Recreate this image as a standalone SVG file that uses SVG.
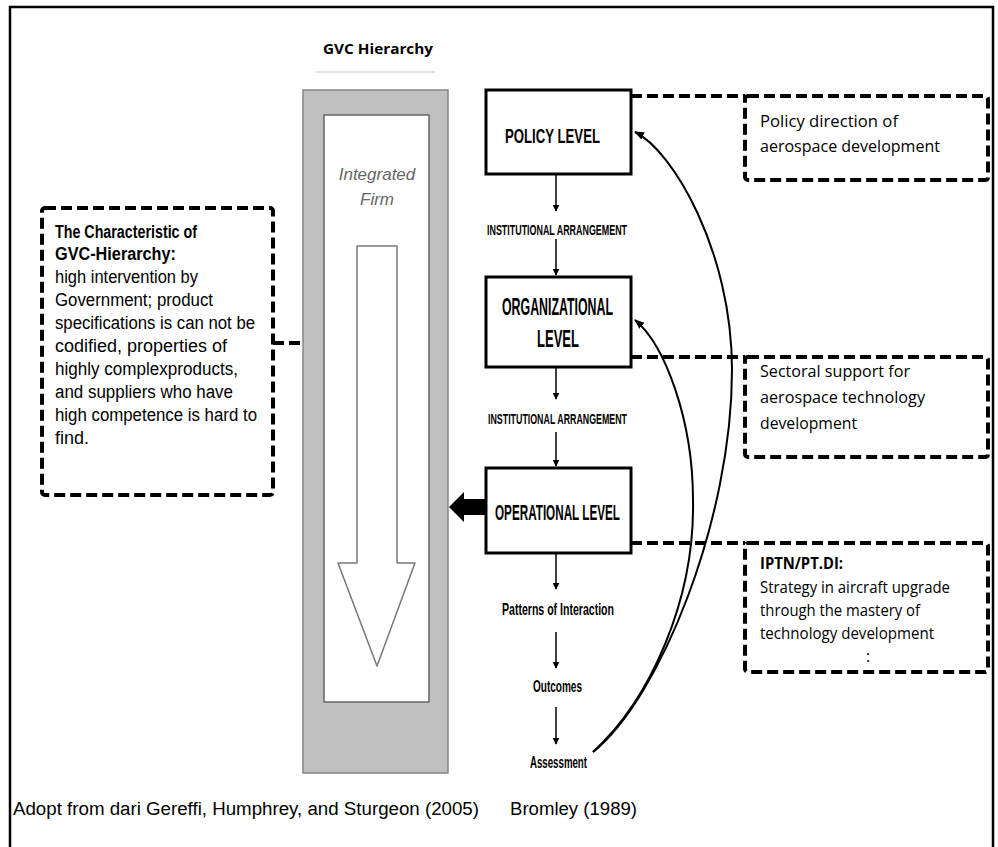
<svg xmlns="http://www.w3.org/2000/svg" width="998" height="847" viewBox="0 0 998 847">
  <style>
    .frame { fill: none; stroke: #000; stroke-width: 2.5; }
    .dash { fill: none; stroke: #000; stroke-width: 4; stroke-dasharray: 11 5; }
    .box { fill: #fff; stroke: #000; stroke-width: 3; }
    .flow { fill: none; stroke: #000; stroke-width: 1.5; }
    .curve { fill: none; stroke: #000; stroke-width: 2; }
    .lvl { font-family: "Liberation Sans", Arial, sans-serif; font-weight: bold; fill: #000; }
    .note { font-family: "Liberation Sans", Arial, sans-serif; font-size: 18px; fill: #000; }
    .cal { font-family: "Open Sans", "Liberation Sans", sans-serif; font-size: 16px; fill: #000; }
    .foot { font-family: "Liberation Sans", Arial, sans-serif; font-size: 18px; fill: #000; }
  </style>
  <defs>
    <marker id="tip" viewBox="0 0 10 10" refX="9" refY="5" markerWidth="7" markerHeight="7" markerUnits="userSpaceOnUse" orient="auto">
      <path d="M0,0 L10,5 L0,10 z" fill="#000"/>
    </marker>
    <marker id="tipBig" viewBox="0 0 10 10" refX="9" refY="5" markerWidth="10" markerHeight="10" markerUnits="userSpaceOnUse" orient="auto">
      <path d="M0,1 L10,5 L0,9 z" fill="#000"/>
    </marker>
  </defs>

  <rect width="998" height="847" fill="#fff"/>
  <path class="frame" d="M10,847 V7 H993 V847"/>

  <!-- GVC hierarchy column -->
  <g id="gvc-hierarchy">
    <text x="378" y="54" text-anchor="middle" font-family="'Open Sans', 'Liberation Sans', sans-serif" font-size="15" font-weight="bold" textLength="110" lengthAdjust="spacingAndGlyphs">GVC Hierarchy</text>
    <line x1="316" y1="72" x2="435" y2="72" stroke="#e2e2e2" stroke-width="2"/>
    <rect x="303" y="90" width="145" height="683" fill="#c0c0c0" stroke="#858585" stroke-width="1.5"/>
    <rect x="324" y="115" width="105" height="587" fill="#fff" stroke="#666" stroke-width="1.5"/>
    <text x="377" y="180" text-anchor="middle" font-family="'Liberation Sans', Arial, sans-serif" font-size="17" font-style="italic" fill="#666">Integrated</text>
    <text x="377" y="205" text-anchor="middle" font-family="'Liberation Sans', Arial, sans-serif" font-size="17" font-style="italic" fill="#666">Firm</text>
    <polygon points="357,246 397,246 397,563 415,563 377,666 338,563 357,563" fill="#fff" stroke="#777" stroke-width="1.5" stroke-linejoin="round"/>
  </g>

  <!-- Characteristic note -->
  <g id="characteristic-note">
    <rect class="dash" x="42" y="208" width="231" height="287" rx="3"/>
    <text class="note" x="55" y="238" font-size="14" font-weight="bold" textLength="142" lengthAdjust="spacingAndGlyphs">The Characteristic of</text>
    <text class="note" x="55" y="260" font-size="16" font-weight="bold" textLength="121" lengthAdjust="spacingAndGlyphs">GVC-Hierarchy:</text>
    <text class="note" x="55" y="283" textLength="143" lengthAdjust="spacingAndGlyphs">high intervention by</text>
    <text class="note" x="55" y="306" textLength="158" lengthAdjust="spacingAndGlyphs">Government; product</text>
    <text class="note" x="55" y="329" textLength="200" lengthAdjust="spacingAndGlyphs">specifications is can not be</text>
    <text class="note" x="55" y="352" textLength="172" lengthAdjust="spacingAndGlyphs">codified, properties of</text>
    <text class="note" x="55" y="375" textLength="183" lengthAdjust="spacingAndGlyphs">highly complexproducts,</text>
    <text class="note" x="55" y="398" textLength="178" lengthAdjust="spacingAndGlyphs">and suppliers who have</text>
    <text class="note" x="55" y="421" textLength="202" lengthAdjust="spacingAndGlyphs">high competence is hard to</text>
    <text class="note" x="55" y="444">find.</text>
  </g>

  <!-- Bromley levels -->
  <g id="policy-level">
    <rect class="box" x="486" y="90" width="145" height="84"/>
    <text class="lvl" x="505" y="143" font-size="20" textLength="95" lengthAdjust="spacingAndGlyphs">POLICY LEVEL</text>
  </g>
  <g id="institutional-1">
    <text class="lvl" x="487" y="235" font-size="14" textLength="140" lengthAdjust="spacingAndGlyphs">INSTITUTIONAL ARRANGEMENT</text>
  </g>
  <g id="organizational-level">
    <rect class="box" x="486" y="277" width="145" height="90"/>
    <text class="lvl" x="502" y="315" font-size="23" textLength="111" lengthAdjust="spacingAndGlyphs">ORGANIZATIONAL</text>
    <text class="lvl" x="537" y="347" font-size="23" textLength="42" lengthAdjust="spacingAndGlyphs">LEVEL</text>
  </g>
  <g id="institutional-2">
    <text class="lvl" x="488" y="424" font-size="14" textLength="139" lengthAdjust="spacingAndGlyphs">INSTITUTIONAL ARRANGEMENT</text>
  </g>
  <g id="operational-level">
    <rect class="box" x="486" y="468" width="145" height="85"/>
    <text class="lvl" x="495" y="520" font-size="22" textLength="125" lengthAdjust="spacingAndGlyphs">OPERATIONAL LEVEL</text>
  </g>
  <g id="patterns">
    <text class="lvl" x="502" y="615" font-size="17" textLength="112" lengthAdjust="spacingAndGlyphs">Patterns of Interaction</text>
  </g>
  <g id="outcomes">
    <text class="lvl" x="533" y="692" font-size="16" textLength="49" lengthAdjust="spacingAndGlyphs">Outcomes</text>
  </g>
  <g id="assessment">
    <text class="lvl" x="530" y="768" font-size="16" textLength="57" lengthAdjust="spacingAndGlyphs">Assessment</text>
  </g>

  <!-- Side notes -->
  <g id="policy-note">
    <rect class="dash" x="745" y="96" width="243" height="84" rx="3"/>
    <text class="cal" x="760" y="127" textLength="138" lengthAdjust="spacingAndGlyphs">Policy direction of</text>
    <text class="cal" x="760" y="152" textLength="180" lengthAdjust="spacingAndGlyphs">aerospace development</text>
  </g>
  <g id="sectoral-note">
    <rect class="dash" x="745" y="357" width="243" height="100" rx="3"/>
    <text class="cal" x="760" y="377" textLength="150" lengthAdjust="spacingAndGlyphs">Sectoral support for</text>
    <text class="cal" x="760" y="403" textLength="165" lengthAdjust="spacingAndGlyphs">aerospace technology</text>
    <text class="cal" x="760" y="429" textLength="97" lengthAdjust="spacingAndGlyphs">development</text>
  </g>
  <g id="iptn-note">
    <rect class="dash" x="745" y="543" width="243" height="129" rx="3"/>
    <text class="cal" x="760" y="569" font-size="15" font-weight="bold" textLength="83" lengthAdjust="spacingAndGlyphs">IPTN/PT.DI:</text>
    <text class="cal" x="760" y="593" font-size="15" textLength="190" lengthAdjust="spacingAndGlyphs">Strategy in aircraft upgrade</text>
    <text class="cal" x="760" y="616" font-size="15" textLength="160" lengthAdjust="spacingAndGlyphs">through the mastery of</text>
    <text class="cal" x="760" y="639" font-size="15" textLength="174" lengthAdjust="spacingAndGlyphs">technology development</text>
    <text class="cal" x="866" y="662" font-size="15">:</text>
  </g>

  <!-- Connectors -->
  <g id="connectors">
    <line class="flow" x1="556" y1="174" x2="556" y2="211" marker-end="url(#tip)"/>
    <line class="flow" x1="556" y1="239" x2="556" y2="275" marker-end="url(#tip)"/>
    <line class="flow" x1="556" y1="367" x2="556" y2="399" marker-end="url(#tip)"/>
    <line class="flow" x1="556" y1="432" x2="556" y2="466" marker-end="url(#tip)"/>
    <line class="flow" x1="556" y1="553" x2="556" y2="589" marker-end="url(#tip)"/>
    <line class="flow" x1="556" y1="632" x2="556" y2="668" marker-end="url(#tip)"/>
    <line class="flow" x1="556" y1="707" x2="556" y2="744" marker-end="url(#tip)"/>

    <path class="curve" d="M593,752 C660,698 732,520 732,370 C732,250 672,150 635,132" marker-end="url(#tipBig)"/>
    <path class="curve" d="M593,752 C650,700 695,600 693,500 C693,420 665,345 635,320" marker-end="url(#tipBig)"/>

    <polygon points="449,507 464,492 464,499 486,499 486,515 464,515 464,522" fill="#000"/>

    <line class="dash" x1="631" y1="96" x2="745" y2="96"/>
    <line class="dash" x1="631" y1="357" x2="745" y2="357"/>
    <line class="dash" x1="631" y1="543" x2="745" y2="543"/>
    <line class="dash" x1="273" y1="343" x2="303" y2="343"/>
  </g>

  <!-- Sources -->
  <text class="foot" x="13" y="815" textLength="466" lengthAdjust="spacingAndGlyphs">Adopt from dari Gereffi,  Humphrey,  and Sturgeon (2005)</text>
  <text class="foot" x="510" y="815" textLength="127" lengthAdjust="spacingAndGlyphs">Bromley (1989)</text>
</svg>
